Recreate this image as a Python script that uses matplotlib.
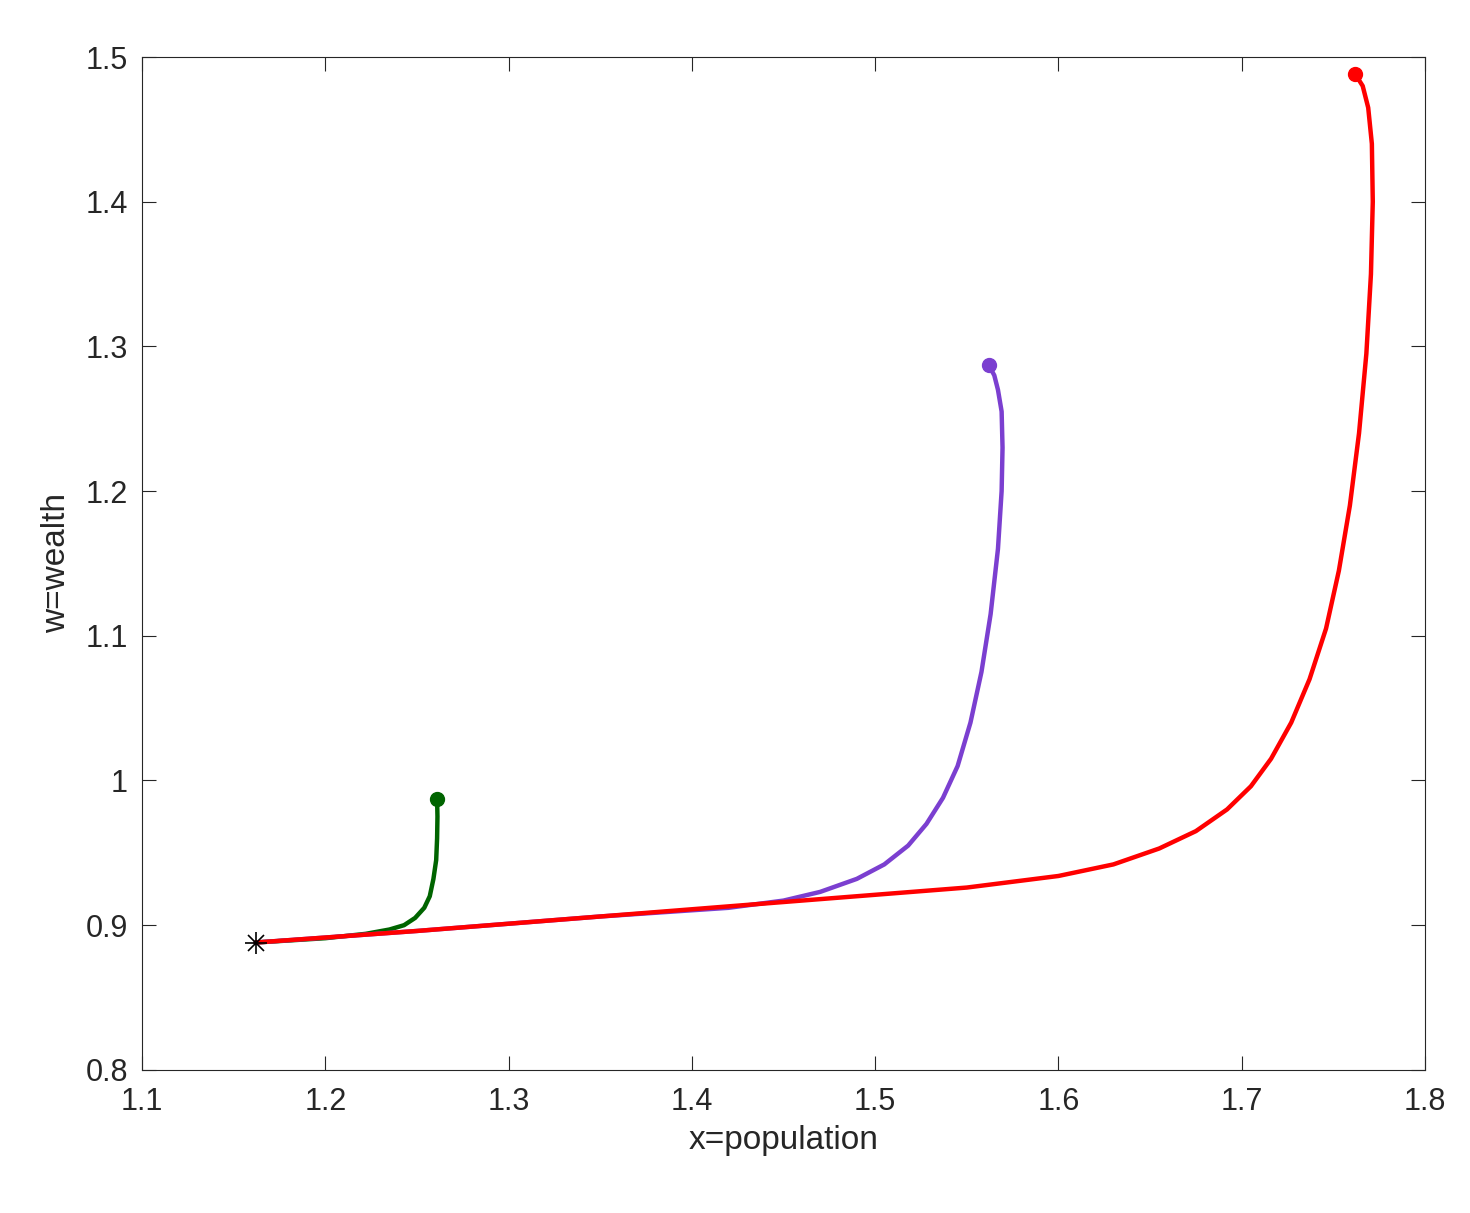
import matplotlib
matplotlib.use("Agg")
import matplotlib.pyplot as plt

green_x = [1.162, 1.20, 1.222, 1.235, 1.243, 1.249, 1.254, 1.257, 1.259, 1.2605, 1.261, 1.2612, 1.261]
green_y = [0.888, 0.891, 0.894, 0.897, 0.900, 0.905, 0.912, 0.920, 0.932, 0.945, 0.960, 0.975, 0.987]

purple_x = [1.162, 1.25, 1.35, 1.42, 1.45, 1.47, 1.49, 1.505, 1.518, 1.528, 1.537, 1.545, 1.552, 1.558, 1.563, 1.567, 1.569, 1.5695, 1.569, 1.567, 1.565, 1.562]
purple_y = [0.888, 0.896, 0.906, 0.912, 0.917, 0.923, 0.932, 0.942, 0.955, 0.970, 0.988, 1.010, 1.040, 1.075, 1.115, 1.160, 1.200, 1.230, 1.255, 1.270, 1.280, 1.287]

red_x = [1.162, 1.25, 1.35, 1.45, 1.55, 1.60, 1.63, 1.655, 1.675, 1.692, 1.705, 1.716, 1.727, 1.737, 1.746, 1.753, 1.759, 1.764, 1.768, 1.7705, 1.7715, 1.771, 1.769, 1.766, 1.762]
red_y = [0.888, 0.896, 0.906, 0.916, 0.926, 0.934, 0.942, 0.953, 0.965, 0.980, 0.996, 1.015, 1.040, 1.070, 1.105, 1.145, 1.190, 1.240, 1.295, 1.350, 1.400, 1.440, 1.465, 1.480, 1.488]

start = (1.162, 0.888)

plt.rcParams['font.family'] = ['Liberation Sans', 'DejaVu Sans']
fig = plt.figure(figsize=(14.7, 12.13), dpi=100)
ax = fig.add_axes([0.0966, 0.118, 0.8728, 0.835])

for xs, ys, c in [(green_x, green_y, '#006400'), (purple_x, purple_y, '#7b3fd0'), (red_x, red_y, '#ff0000')]:
    ax.plot(xs, ys, color=c, lw=3.2, solid_capstyle='round', solid_joinstyle='round', zorder=2)
    ax.plot(xs[-1], ys[-1], 'o', color=c, ms=10, zorder=3)

ax.plot(*start, marker='+', color='black', ms=16, mew=1.2, linestyle='none', zorder=4)
ax.plot(*start, marker='x', color='black', ms=11, mew=1.2, linestyle='none', zorder=4)

ax.set_xlim(1.1, 1.8)
ax.set_ylim(0.8, 1.5)
ax.set_xticks([1.1, 1.2, 1.3, 1.4, 1.5, 1.6, 1.7, 1.8])
ax.set_xticklabels(['1.1', '1.2', '1.3', '1.4', '1.5', '1.6', '1.7', '1.8'])
ax.set_yticks([0.8, 0.9, 1.0, 1.1, 1.2, 1.3, 1.4, 1.5])
ax.set_yticklabels(['0.8', '0.9', '1', '1.1', '1.2', '1.3', '1.4', '1.5'])
ax.tick_params(direction='in', top=True, right=True, labelsize=22, length=10, colors='#262626')
ax.tick_params(axis='x', pad=12)
ax.tick_params(axis='y', pad=10)
for s in ax.spines.values():
    s.set_color('#262626')
ax.set_xlabel('x=population', fontsize=24, color='#262626', labelpad=6)
ax.set_ylabel('w=wealth', fontsize=24, color='#262626', labelpad=10)
fig.savefig('out.png', dpi=100)
